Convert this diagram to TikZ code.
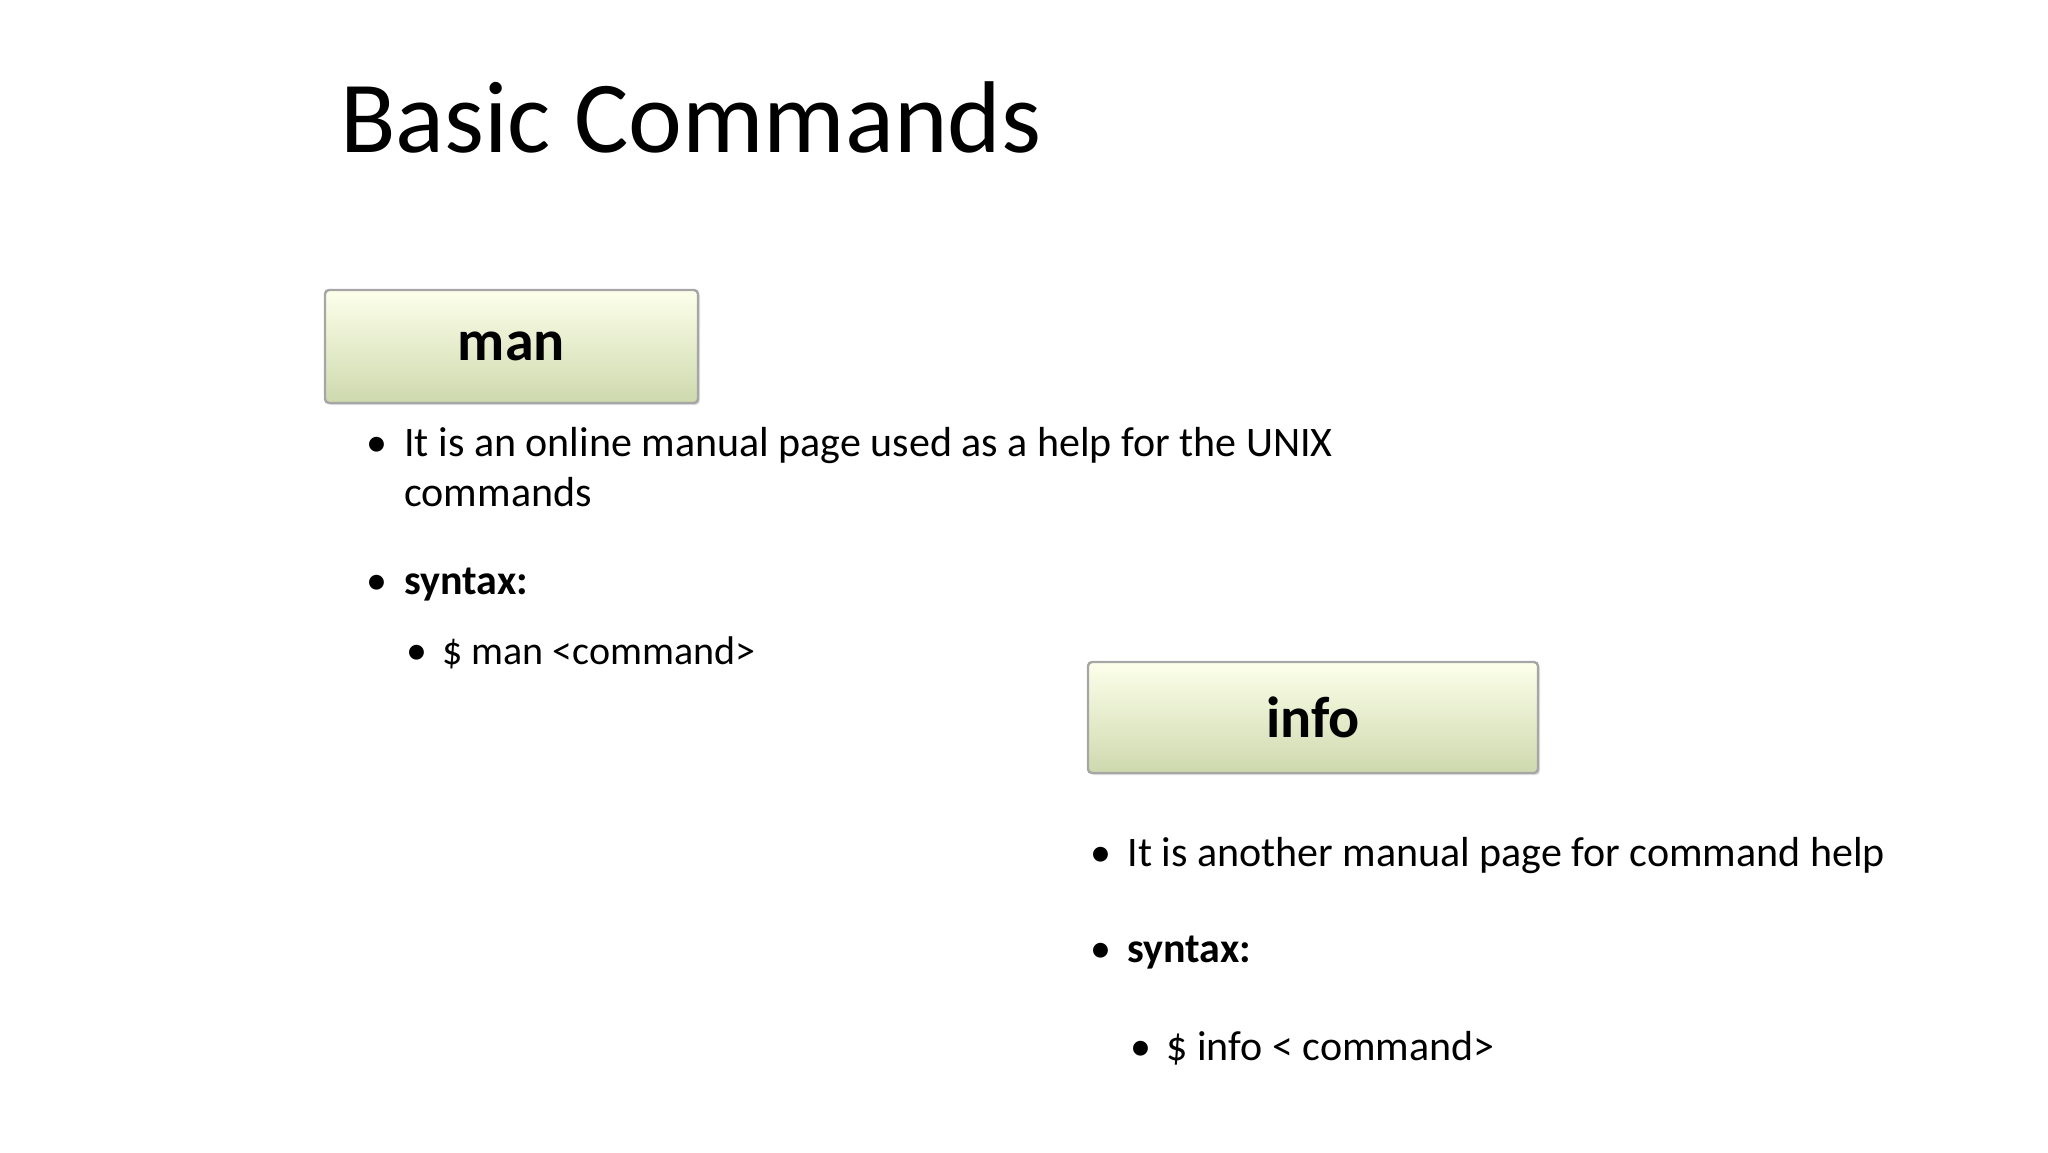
\documentclass[tikz,border=0pt]{standalone}
\usepackage{fontspec}
\setmainfont{Carlito}
\usetikzlibrary{shadows}
\tikzset{
 cmdbox/.style={draw=gray!70,line width=1.2pt,rounded corners=2pt,top color=green!10!yellow!8!white,bottom color=green!25!yellow!20!white!85!black,drop shadow={opacity=0.25,shadow xshift=1pt,shadow yshift=-1pt}},
 txt/.style={anchor=base west,inner sep=0pt,font=\fontsize{21}{25}\selectfont},
 sub/.style={anchor=base west,inner sep=0pt,font=\fontsize{20}{24}\selectfont},
 bul/.style={anchor=base west,inner sep=0pt,font=\fontsize{21}{25}\selectfont}
}
\begin{document}
\begin{tikzpicture}[x=1pt,y=1pt]
\useasboundingbox (0,0) rectangle (1024,-576);
\node[anchor=base west,inner sep=0pt,font=\fontsize{51}{60}\selectfont] (title) at (170,-76) {Basic Commands};
% man
\draw[cmdbox] (162.5,-145) rectangle (349,-201.5);
\node[font=\fontsize{29}{34}\selectfont\bfseries] (man) at (255.7,-173) {man};
\node[bul] (b1) at (183,-228) {\textbullet};
\node[txt] (t1) at (202,-228) {It is an online manual page used as a help for the UNIX};
\node[txt] (t1b) at (202,-253) {commands};
\node[bul] (b2) at (183,-297) {\textbullet};
\node[txt,font=\fontsize{21}{25}\selectfont\bfseries] (t2) at (202,-297) {syntax:};
\node[bul] (b3) at (203,-332) {\textbullet};
\node[sub] (t3) at (221,-332) {\$ man <command>};
% info
\draw[cmdbox] (544,-331) rectangle (769,-386.5);
\node[font=\fontsize{29}{34}\selectfont\bfseries] (info) at (656.5,-358.5) {info};
\node[bul] (c1) at (545,-433) {\textbullet};
\node[txt] (u1) at (563.5,-433) {It is another manual page for command help};
\node[bul] (c2) at (545,-481) {\textbullet};
\node[txt,font=\fontsize{21}{25}\selectfont\bfseries] (u2) at (563.5,-481) {syntax:};
\node[bul] (c3) at (565,-530) {\textbullet};
\node[sub,font=\fontsize{21}{25}\selectfont] (u3) at (583,-530) {\$ info < command>};
\end{tikzpicture}
\end{document}
